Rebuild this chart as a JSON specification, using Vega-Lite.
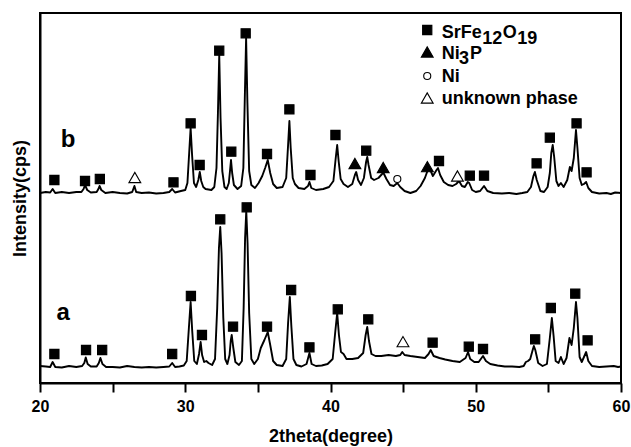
{
 "$schema": "https://vega.github.io/schema/vega-lite/v6.json",
 "width": 581,
 "height": 370,
 "autosize": {"type": "none"},
 "padding": {"left": 40, "top": 13, "right": 10, "bottom": 64},
 "background": "white",
 "config": {
  "view": {"stroke": "black", "strokeWidth": 2},
  "font": "Liberation Sans",
  "axis": {"grid": false, "domainColor": "black", "domainWidth": 2, "tickColor": "black", "tickWidth": 2,
   "labelFont": "Liberation Sans", "titleFont": "Liberation Sans", "labelFontWeight": "bold", "titleFontWeight": "bold",
   "labelColor": "black", "titleColor": "black"}
 },
 "datasets": {
  "curves": [
   {"s":"b","x":20.0,"y":190},{"s":"b","x":20.4,"y":191},{"s":"b","x":20.7,"y":190.5},{"s":"b","x":20.87,"y":194},{"s":"b","x":21.05,"y":190},{"s":"b","x":21.5,"y":191},{"s":"b","x":22.0,"y":190},{"s":"b","x":22.5,"y":191},{"s":"b","x":22.85,"y":191},{"s":"b","x":23.0,"y":194},{"s":"b","x":23.1,"y":198},{"s":"b","x":23.25,"y":193},{"s":"b","x":23.5,"y":190.5},{"s":"b","x":23.9,"y":191},{"s":"b","x":24.02,"y":194},{"s":"b","x":24.1,"y":197},{"s":"b","x":24.22,"y":193},{"s":"b","x":24.5,"y":190},{"s":"b","x":25.0,"y":191},{"s":"b","x":25.5,"y":190},{"s":"b","x":26.0,"y":189.5},{"s":"b","x":26.35,"y":191},{"s":"b","x":26.5,"y":197},{"s":"b","x":26.62,"y":191},{"s":"b","x":27.0,"y":190},{"s":"b","x":27.5,"y":190.5},{"s":"b","x":28.0,"y":189.5},{"s":"b","x":28.5,"y":190},{"s":"b","x":28.9,"y":191},{"s":"b","x":29.1,"y":194},{"s":"b","x":29.3,"y":190.5},{"s":"b","x":29.7,"y":192},{"s":"b","x":30.0,"y":193},{"s":"b","x":30.15,"y":200},{"s":"b","x":30.27,"y":230},{"s":"b","x":30.37,"y":255},{"s":"b","x":30.47,"y":228},{"s":"b","x":30.6,"y":200},{"s":"b","x":30.75,"y":196},{"s":"b","x":30.9,"y":203},{"s":"b","x":31.0,"y":211},{"s":"b","x":31.1,"y":202},{"s":"b","x":31.24,"y":196},{"s":"b","x":31.4,"y":194},{"s":"b","x":31.8,"y":193},{"s":"b","x":32.0,"y":196},{"s":"b","x":32.15,"y":215},{"s":"b","x":32.25,"y":270},{"s":"b","x":32.34,"y":328},{"s":"b","x":32.43,"y":265},{"s":"b","x":32.55,"y":212},{"s":"b","x":32.7,"y":196},{"s":"b","x":32.85,"y":194},{"s":"b","x":33.0,"y":200},{"s":"b","x":33.08,"y":212},{"s":"b","x":33.15,"y":223},{"s":"b","x":33.23,"y":210},{"s":"b","x":33.35,"y":198},{"s":"b","x":33.6,"y":194},{"s":"b","x":33.85,"y":197},{"s":"b","x":34.0,"y":215},{"s":"b","x":34.1,"y":285},{"s":"b","x":34.19,"y":345},{"s":"b","x":34.28,"y":280},{"s":"b","x":34.4,"y":212},{"s":"b","x":34.55,"y":198},{"s":"b","x":34.8,"y":195},{"s":"b","x":35.05,"y":200},{"s":"b","x":35.3,"y":207},{"s":"b","x":35.5,"y":215},{"s":"b","x":35.68,"y":223},{"s":"b","x":35.85,"y":210},{"s":"b","x":36.05,"y":199},{"s":"b","x":36.3,"y":195},{"s":"b","x":36.7,"y":196},{"s":"b","x":36.95,"y":205},{"s":"b","x":37.08,"y":238},{"s":"b","x":37.17,"y":262},{"s":"b","x":37.26,"y":235},{"s":"b","x":37.4,"y":205},{"s":"b","x":37.55,"y":199},{"s":"b","x":37.8,"y":195},{"s":"b","x":38.2,"y":194},{"s":"b","x":38.45,"y":197},{"s":"b","x":38.55,"y":201},{"s":"b","x":38.68,"y":195},{"s":"b","x":39.0,"y":193},{"s":"b","x":39.5,"y":194},{"s":"b","x":39.9,"y":196},{"s":"b","x":40.2,"y":202},{"s":"b","x":40.36,"y":225},{"s":"b","x":40.46,"y":238},{"s":"b","x":40.56,"y":222},{"s":"b","x":40.7,"y":204},{"s":"b","x":40.9,"y":199},{"s":"b","x":41.2,"y":196},{"s":"b","x":41.5,"y":199},{"s":"b","x":41.68,"y":208},{"s":"b","x":41.77,"y":211},{"s":"b","x":41.9,"y":203},{"s":"b","x":42.1,"y":198},{"s":"b","x":42.3,"y":205},{"s":"b","x":42.45,"y":221},{"s":"b","x":42.53,"y":226},{"s":"b","x":42.62,"y":218},{"s":"b","x":42.8,"y":205},{"s":"b","x":43.0,"y":203},{"s":"b","x":43.3,"y":205},{"s":"b","x":43.55,"y":209},{"s":"b","x":43.65,"y":210},{"s":"b","x":43.85,"y":204},{"s":"b","x":44.1,"y":198},{"s":"b","x":44.35,"y":197},{"s":"b","x":44.6,"y":200},{"s":"b","x":44.8,"y":196},{"s":"b","x":45.1,"y":192},{"s":"b","x":45.5,"y":190},{"s":"b","x":45.9,"y":192},{"s":"b","x":46.2,"y":197},{"s":"b","x":46.5,"y":205},{"s":"b","x":46.75,"y":215},{"s":"b","x":46.9,"y":212},{"s":"b","x":47.05,"y":207},{"s":"b","x":47.3,"y":213},{"s":"b","x":47.4,"y":215},{"s":"b","x":47.55,"y":208},{"s":"b","x":47.8,"y":201},{"s":"b","x":48.1,"y":198},{"s":"b","x":48.4,"y":197},{"s":"b","x":48.65,"y":199},{"s":"b","x":48.85,"y":202},{"s":"b","x":49.05,"y":197},{"s":"b","x":49.25,"y":196},{"s":"b","x":49.45,"y":201},{"s":"b","x":49.55,"y":200},{"s":"b","x":49.75,"y":193},{"s":"b","x":50.0,"y":191},{"s":"b","x":50.3,"y":192},{"s":"b","x":50.57,"y":197},{"s":"b","x":50.8,"y":192},{"s":"b","x":51.2,"y":190},{"s":"b","x":51.8,"y":189.5},{"s":"b","x":52.3,"y":190},{"s":"b","x":52.8,"y":189},{"s":"b","x":53.2,"y":190},{"s":"b","x":53.55,"y":191},{"s":"b","x":53.8,"y":196},{"s":"b","x":53.97,"y":207},{"s":"b","x":54.07,"y":211},{"s":"b","x":54.2,"y":203},{"s":"b","x":54.45,"y":192},{"s":"b","x":54.7,"y":191},{"s":"b","x":54.95,"y":196},{"s":"b","x":55.1,"y":210},{"s":"b","x":55.2,"y":230},{"s":"b","x":55.3,"y":238},{"s":"b","x":55.4,"y":226},{"s":"b","x":55.55,"y":202},{"s":"b","x":55.7,"y":197},{"s":"b","x":55.86,"y":200},{"s":"b","x":56.05,"y":196},{"s":"b","x":56.3,"y":203},{"s":"b","x":56.48,"y":216},{"s":"b","x":56.6,"y":212},{"s":"b","x":56.75,"y":225},{"s":"b","x":56.9,"y":253},{"s":"b","x":57.0,"y":235},{"s":"b","x":57.15,"y":205},{"s":"b","x":57.3,"y":198},{"s":"b","x":57.45,"y":199},{"s":"b","x":57.6,"y":201},{"s":"b","x":57.75,"y":195},{"s":"b","x":58.0,"y":191},{"s":"b","x":58.5,"y":189.5},{"s":"b","x":59.0,"y":190},{"s":"b","x":59.3,"y":189},{"s":"b","x":59.6,"y":190.5},{"s":"b","x":60.0,"y":190},
   {"s":"a","x":20.0,"y":17},{"s":"a","x":20.4,"y":16.5},{"s":"a","x":20.7,"y":16},{"s":"a","x":20.87,"y":21},{"s":"a","x":21.05,"y":16},{"s":"a","x":21.5,"y":15.5},{"s":"a","x":22.0,"y":17},{"s":"a","x":22.5,"y":16},{"s":"a","x":22.9,"y":17},{"s":"a","x":23.05,"y":20},{"s":"a","x":23.15,"y":25.5},{"s":"a","x":23.28,"y":19},{"s":"a","x":23.5,"y":16.5},{"s":"a","x":23.9,"y":16.5},{"s":"a","x":24.05,"y":20},{"s":"a","x":24.16,"y":25},{"s":"a","x":24.3,"y":19},{"s":"a","x":24.55,"y":16},{"s":"a","x":25.0,"y":16},{"s":"a","x":25.5,"y":15.5},{"s":"a","x":26.0,"y":17},{"s":"a","x":26.5,"y":16},{"s":"a","x":27.0,"y":15.5},{"s":"a","x":27.5,"y":16},{"s":"a","x":28.0,"y":15.5},{"s":"a","x":28.5,"y":16},{"s":"a","x":28.9,"y":16.5},{"s":"a","x":29.1,"y":20},{"s":"a","x":29.3,"y":16},{"s":"a","x":29.6,"y":16.5},{"s":"a","x":29.9,"y":17.5},{"s":"a","x":30.1,"y":22},{"s":"a","x":30.25,"y":55},{"s":"a","x":30.37,"y":81},{"s":"a","x":30.48,"y":52},{"s":"a","x":30.62,"y":22},{"s":"a","x":30.8,"y":19},{"s":"a","x":30.95,"y":29},{"s":"a","x":31.06,"y":41},{"s":"a","x":31.16,"y":28},{"s":"a","x":31.3,"y":21},{"s":"a","x":31.45,"y":22},{"s":"a","x":31.6,"y":20},{"s":"a","x":31.85,"y":18},{"s":"a","x":32.05,"y":24},{"s":"a","x":32.2,"y":75},{"s":"a","x":32.32,"y":135},{"s":"a","x":32.41,"y":156},{"s":"a","x":32.5,"y":130},{"s":"a","x":32.62,"y":65},{"s":"a","x":32.75,"y":24},{"s":"a","x":32.9,"y":19},{"s":"a","x":33.05,"y":28},{"s":"a","x":33.13,"y":42},{"s":"a","x":33.2,"y":48},{"s":"a","x":33.3,"y":36},{"s":"a","x":33.45,"y":21},{"s":"a","x":33.7,"y":18},{"s":"a","x":33.9,"y":22},{"s":"a","x":34.02,"y":75},{"s":"a","x":34.12,"y":145},{"s":"a","x":34.2,"y":172},{"s":"a","x":34.29,"y":140},{"s":"a","x":34.4,"y":70},{"s":"a","x":34.55,"y":24},{"s":"a","x":34.75,"y":19},{"s":"a","x":35.0,"y":24},{"s":"a","x":35.2,"y":35},{"s":"a","x":35.45,"y":43},{"s":"a","x":35.68,"y":51},{"s":"a","x":35.85,"y":38},{"s":"a","x":36.05,"y":22},{"s":"a","x":36.3,"y":18},{"s":"a","x":36.7,"y":17},{"s":"a","x":36.95,"y":24},{"s":"a","x":37.08,"y":60},{"s":"a","x":37.2,"y":86},{"s":"a","x":37.3,"y":58},{"s":"a","x":37.45,"y":24},{"s":"a","x":37.65,"y":18},{"s":"a","x":38.0,"y":16.5},{"s":"a","x":38.35,"y":19},{"s":"a","x":38.55,"y":30},{"s":"a","x":38.7,"y":19},{"s":"a","x":39.0,"y":17},{"s":"a","x":39.4,"y":17.5},{"s":"a","x":39.8,"y":19},{"s":"a","x":40.15,"y":24},{"s":"a","x":40.32,"y":50},{"s":"a","x":40.46,"y":70},{"s":"a","x":40.58,"y":48},{"s":"a","x":40.72,"y":31},{"s":"a","x":40.9,"y":29},{"s":"a","x":41.1,"y":24},{"s":"a","x":41.5,"y":24},{"s":"a","x":41.9,"y":25},{"s":"a","x":42.25,"y":30},{"s":"a","x":42.42,"y":48},{"s":"a","x":42.53,"y":56},{"s":"a","x":42.65,"y":42},{"s":"a","x":42.82,"y":29},{"s":"a","x":43.1,"y":27},{"s":"a","x":43.5,"y":27},{"s":"a","x":44.0,"y":28},{"s":"a","x":44.5,"y":27},{"s":"a","x":44.8,"y":28},{"s":"a","x":44.94,"y":31},{"s":"a","x":45.1,"y":28},{"s":"a","x":45.5,"y":27},{"s":"a","x":46.0,"y":26},{"s":"a","x":46.5,"y":25},{"s":"a","x":46.75,"y":29},{"s":"a","x":46.9,"y":33},{"s":"a","x":47.1,"y":27},{"s":"a","x":47.5,"y":25},{"s":"a","x":47.9,"y":23.5},{"s":"a","x":48.4,"y":22},{"s":"a","x":48.9,"y":21},{"s":"a","x":49.3,"y":25},{"s":"a","x":49.47,"y":31},{"s":"a","x":49.62,"y":24},{"s":"a","x":49.9,"y":21},{"s":"a","x":50.2,"y":21},{"s":"a","x":50.5,"y":27},{"s":"a","x":50.7,"y":22},{"s":"a","x":51.0,"y":19},{"s":"a","x":51.5,"y":17.5},{"s":"a","x":52.0,"y":16.5},{"s":"a","x":52.5,"y":16.5},{"s":"a","x":53.0,"y":16},{"s":"a","x":53.3,"y":17},{"s":"a","x":53.45,"y":21},{"s":"a","x":53.6,"y":22},{"s":"a","x":53.75,"y":24},{"s":"a","x":53.9,"y":32},{"s":"a","x":54.0,"y":37},{"s":"a","x":54.1,"y":33},{"s":"a","x":54.3,"y":20},{"s":"a","x":54.6,"y":17},{"s":"a","x":54.9,"y":19},{"s":"a","x":55.1,"y":45},{"s":"a","x":55.24,"y":65},{"s":"a","x":55.36,"y":47},{"s":"a","x":55.5,"y":22},{"s":"a","x":55.7,"y":20},{"s":"a","x":55.86,"y":26},{"s":"a","x":56.05,"y":19},{"s":"a","x":56.25,"y":25},{"s":"a","x":56.45,"y":45},{"s":"a","x":56.6,"y":38},{"s":"a","x":56.75,"y":55},{"s":"a","x":56.9,"y":81},{"s":"a","x":57.0,"y":65},{"s":"a","x":57.15,"y":26},{"s":"a","x":57.3,"y":21},{"s":"a","x":57.45,"y":26},{"s":"a","x":57.6,"y":31},{"s":"a","x":57.75,"y":22},{"s":"a","x":58.0,"y":17},{"s":"a","x":58.5,"y":16},{"s":"a","x":59.0,"y":16.5},{"s":"a","x":59.5,"y":17},{"s":"a","x":59.8,"y":16},{"s":"a","x":60.0,"y":16.5}
  ],
  "markers": [
   {"phase":"S","x":20.99,"y":203},{"phase":"S","x":23.10,"y":202},{"phase":"S","x":24.12,"y":204},{"phase":"U","x":26.53,"y":205.5},{"phase":"S","x":29.19,"y":200.7},{"phase":"S","x":30.37,"y":259.7},{"phase":"S","x":30.99,"y":218},{"phase":"S","x":32.34,"y":332.3},{"phase":"S","x":33.17,"y":231.3},{"phase":"S","x":34.16,"y":349.7},{"phase":"S","x":35.63,"y":229},{"phase":"S","x":37.17,"y":273.7},{"phase":"S","x":38.62,"y":208},{"phase":"S","x":40.34,"y":248},{"phase":"N","x":41.68,"y":219.5},{"phase":"S","x":42.46,"y":232.3},{"phase":"N","x":43.63,"y":215.5},{"phase":"Ni","x":44.6,"y":204},{"phase":"N","x":46.67,"y":216.3},{"phase":"S","x":47.47,"y":222},{"phase":"U","x":48.74,"y":207},{"phase":"S","x":49.59,"y":207.3},{"phase":"S","x":50.57,"y":207.3},{"phase":"S","x":54.19,"y":219.7},{"phase":"S","x":55.1,"y":245.3},{"phase":"S","x":56.94,"y":259.7},{"phase":"S","x":57.63,"y":210.7},
   {"phase":"S","x":20.99,"y":29},{"phase":"S","x":23.17,"y":33},{"phase":"S","x":24.28,"y":33},{"phase":"S","x":29.1,"y":29},{"phase":"S","x":30.39,"y":87},{"phase":"S","x":31.15,"y":48},{"phase":"S","x":32.41,"y":163.7},{"phase":"S","x":33.29,"y":56.3},{"phase":"S","x":34.23,"y":175.7},{"phase":"S","x":35.63,"y":56.3},{"phase":"S","x":37.29,"y":93},{"phase":"S","x":38.55,"y":35.7},{"phase":"S","x":40.5,"y":73.7},{"phase":"S","x":42.6,"y":63.7},{"phase":"U","x":44.99,"y":41.3},{"phase":"S","x":47.03,"y":40.3},{"phase":"S","x":49.52,"y":36.3},{"phase":"S","x":50.5,"y":34},{"phase":"S","x":54.09,"y":43.7},{"phase":"S","x":55.17,"y":75},{"phase":"S","x":56.85,"y":89.3},{"phase":"S","x":57.7,"y":42.7}
  ],
  "legendsym": [
   {"phase":"S","x":46.66,"y":353},{"phase":"N","x":46.66,"y":331},{"phase":"Ni","x":46.66,"y":307},{"phase":"U","x":46.66,"y":285}
  ],
  "legendtext": [
   {"t":"SrFe","x":47.66,"y":345},{"t":"12","x":50.45,"y":339},{"t":"O","x":51.86,"y":345},{"t":"19","x":52.86,"y":339},
   {"t":"Ni","x":47.66,"y":324},{"t":"3","x":48.85,"y":319},{"t":"P","x":49.6,"y":324},
   {"t":"Ni","x":47.66,"y":301},
   {"t":"unknown phase","x":47.66,"y":279}
  ],
  "labels": [
   {"t":"b","x":21.93,"y":243},{"t":"a","x":21.6,"y":70}
  ]
 },
 "encoding": {
  "x": {"field": "x", "type": "quantitative", "scale": {"domain": [20, 60], "nice": false, "zero": false},
   "axis": {"title": "2theta(degree)", "values": [20,25,30,35,40,45,50,55,60], "labelExpr": "datum.value % 10 == 0 ? datum.label : ''",
    "tickSize": 9, "labelPadding": 6, "labelFontSize": 16, "titleFontSize": 18, "titlePadding": 13, "labelFlush": false, "labelOverlap": false}},
  "y": {"field": "y", "type": "quantitative", "scale": {"domain": [0, 370], "nice": false, "zero": false},
   "axis": {"title": "Intensity(cps)", "ticks": false, "labels": false, "titleFontSize": 18, "titlePadding": 11}}
 },
 "layer": [
  {"data": {"name": "curves"}, "mark": {"type": "line", "color": "black", "strokeWidth": 1.9, "strokeJoin": "round"},
   "encoding": {"detail": {"field": "s", "type": "nominal"}}},
  {"data": {"name": "markers"}, "mark": {"type": "point", "filled": true, "stroke": "black", "strokeWidth": 1.1, "opacity": 1},
   "encoding": {
    "shape": {"field": "phase", "type": "nominal", "scale": {"domain": ["S","N","Ni","U"], "range": ["square","triangle-up","circle","triangle-up"]}, "legend": null},
    "fill": {"field": "phase", "type": "nominal", "scale": {"domain": ["S","N","Ni","U"], "range": ["black","black","white","white"]}, "legend": null},
    "size": {"field": "phase", "type": "nominal", "scale": {"type": "ordinal", "domain": ["S","N","Ni","U"], "range": [85,140,50,140]}, "legend": null}}},
  {"data": {"name": "legendsym"}, "mark": {"type": "point", "filled": true, "stroke": "black", "strokeWidth": 1.1, "opacity": 1},
   "encoding": {
    "shape": {"field": "phase", "type": "nominal", "scale": {"domain": ["S","N","Ni","U"], "range": ["square","triangle-up","circle","triangle-up"]}, "legend": null},
    "fill": {"field": "phase", "type": "nominal", "scale": {"domain": ["S","N","Ni","U"], "range": ["black","black","white","white"]}, "legend": null},
    "size": {"field": "phase", "type": "nominal", "scale": {"type": "ordinal", "domain": ["S","N","Ni","U"], "range": [85,140,50,140]}, "legend": null}}},
  {"data": {"name": "legendtext"}, "mark": {"type": "text", "font": "Liberation Sans", "fontWeight": "bold", "fontSize": 18, "align": "left", "baseline": "alphabetic", "color": "black"},
   "encoding": {"text": {"field": "t", "type": "nominal"}}},
  {"data": {"name": "labels"}, "mark": {"type": "text", "font": "Liberation Sans", "fontWeight": "bold", "fontSize": 24, "align": "center", "baseline": "middle", "color": "black"},
   "encoding": {"text": {"field": "t", "type": "nominal"}}}
 ]
}
